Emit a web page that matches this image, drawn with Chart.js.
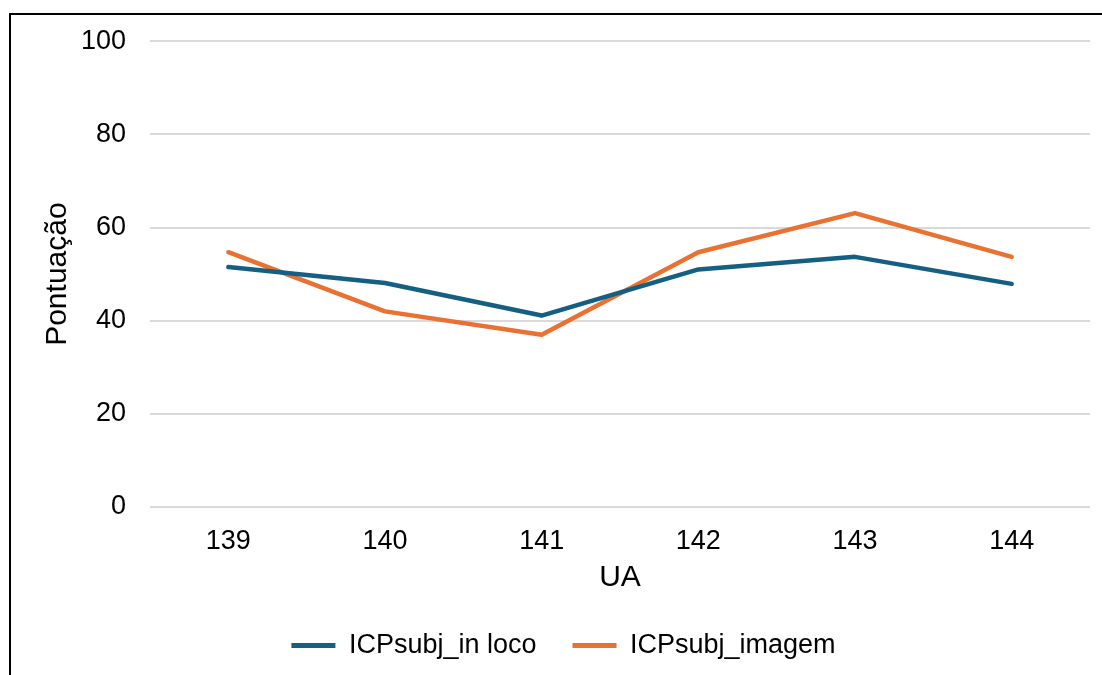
<!DOCTYPE html>
<html lang="pt">
<head>
<meta charset="utf-8">
<title>ICPsubj por UA</title>
<script src="https://cdn.jsdelivr.net/npm/chart.js@4.4.1/dist/chart.umd.min.js"></script>
<style>
  html, body { margin: 0; padding: 0; background: #fff; overflow: hidden; }
  body { width: 1102px; height: 675px; position: relative; }
  #frame {
    position: absolute; left: 9px; top: 13px;
    width: 1100px; height: 700px;
    border: 2px solid #000; background: #fff;
  }
  #chart { position: absolute; left: 11px; top: 1px; display: block; }
</style>
</head>
<body>
<div id="frame"></div>
<canvas id="chart" width="1091" height="680"></canvas>
<script>
// Unidades de avaliação (UA)
const categories = ['139', '140', '141', '142', '143', '144'];
// Pontuação por método de avaliação
const inLoco = [51.5, 48.1, 41.1, 51.0, 53.7, 47.9];
const imagem = [54.7, 42.0, 37.0, 54.7, 63.1, 53.7];
// Marcas do eixo vertical
const yTicks = [0, 20, 40, 60, 80, 100];

const BLUE = '#156082';
const ORANGE = '#E97132';
const FONT = "'Liberation Sans', Arial, sans-serif";

new Chart(document.getElementById('chart'), {
  type: 'line',
  data: {
    labels: categories,
    datasets: [
      {
        label: 'ICPsubj_in loco',
        data: inLoco,
        borderColor: BLUE,
        backgroundColor: BLUE,
        borderWidth: 4.5,
        borderCapStyle: 'round',
        borderJoinStyle: 'round',
        pointRadius: 0,
        tension: 0
      },
      {
        label: 'ICPsubj_imagem',
        data: imagem,
        borderColor: ORANGE,
        backgroundColor: ORANGE,
        borderWidth: 4.5,
        borderCapStyle: 'round',
        borderJoinStyle: 'round',
        pointRadius: 0,
        tension: 0
      }
    ]
  },
  options: {
    responsive: false,
    animation: false,
    layout: { padding: { top: 10, right: 12, bottom: 12, left: 26 } },
    plugins: {
      tooltip: { enabled: false },
      legend: {
        position: 'bottom',
        labels: {
          font: { family: FONT, size: 27 },
          color: '#000',
          boxWidth: 44,
          boxHeight: 5,
          padding: 36,
          generateLabels(chart) {
            return chart.data.datasets.map((ds, i) => ({
              text: ds.label,
              fillStyle: ds.borderColor,
              strokeStyle: ds.borderColor,
              lineWidth: 0,
              hidden: false,
              datasetIndex: i,
              fontColor: '#000'
            }));
          }
        }
      }
    },
    scales: {
      x: {
        offset: true,
        grid: { display: false, drawTicks: false },
        border: { display: false },
        ticks: { font: { family: FONT, size: 27 }, color: '#000', padding: 18 },
        title: {
          display: true, text: 'UA', color: '#000',
          font: { family: FONT, size: 30 },
          padding: { top: 0, bottom: 0 }
        },
        afterFit(scale) { scale.height = 89; }
      },
      y: {
        min: 0,
        max: 100,
        afterBuildTicks(scale) { scale.ticks = yTicks.map(v => ({ value: v })); },
        grid: { color: '#d9d9d9', lineWidth: 2, drawTicks: false },
        border: { display: false },
        ticks: { font: { family: FONT, size: 27 }, color: '#000', padding: 24 },
        title: {
          display: true, text: 'Pontuação', color: '#000',
          font: { family: FONT, size: 30 },
          padding: { top: 3, bottom: 0 }
        },
        afterFit(scale) { scale.width = 113; }
      }
    }
  }
});
</script>
</body>
</html>
